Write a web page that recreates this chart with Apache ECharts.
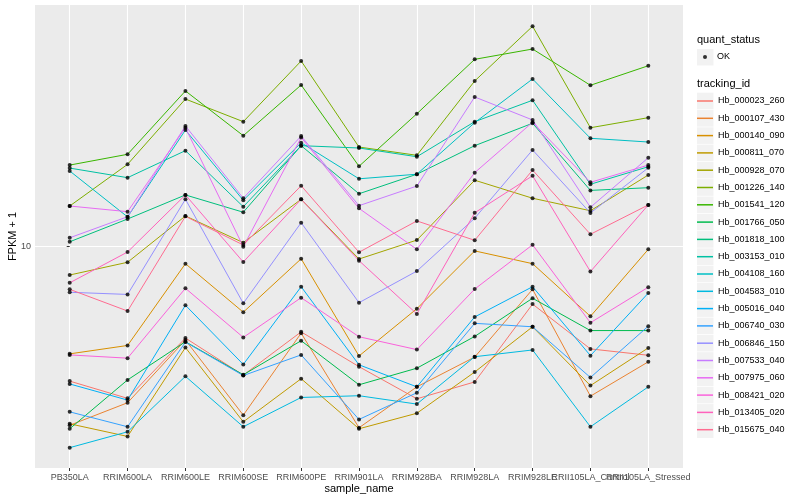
<!DOCTYPE html>
<html>
<head>
<meta charset="utf-8">
<script src="https://cdn.jsdelivr.net/npm/echarts@6/dist/echarts.min.js"></script>
<style>html,body{margin:0;padding:0;background:#fff}#c{width:800px;height:500px}</style>
</head>
<body>
<div id="c"></div>
<script>
const categories = ['PB350LA','RRIM600LA','RRIM600LE','RRIM600SE','RRIM600PE','RRIM901LA','RRIM928BA','RRIM928LA','RRIM928LE','RRII105LA_Control','RRII105LA_Stressed'];
const yTickValues = [10];

const Hb_000023_260 = [5.38, 4.97, 6.56, 5.53, 6.75, 5.75, 4.96, 5.36, 7.67, 6.24, 6.06];
const Hb_000107_430 = [4.39, 4.87, 6.50, 4.60, 6.71, 4.34, 5.24, 6.01, 8.21, 5.02, 5.88];
const Hb_000140_090 = [6.10, 6.34, 9.24, 7.39, 9.45, 6.04, 7.51, 9.80, 9.24, 7.25, 9.87];
const Hb_000811_070 = [4.42, 4.17, 6.28, 4.46, 5.44, 4.32, 4.64, 5.61, 6.91, 5.27, 6.27];
const Hb_000928_070 = [8.77, 9.30, 11.51, 10.18, 12.43, 9.44, 10.30, 13.57, 12.49, 11.79, 13.90];
const Hb_001226_140 = [12.05, 14.60, 19.72, 17.77, 23.50, 15.81, 15.22, 21.43, 27.57, 17.28, 18.10];
const Hb_001541_120 = [14.55, 15.29, 20.47, 16.66, 21.04, 14.47, 18.43, 23.68, 24.83, 21.01, 22.99];
const Hb_001766_050 = [4.32, 5.41, 6.45, 5.54, 6.48, 5.29, 5.71, 6.61, 7.88, 6.79, 6.79];
const Hb_001818_100 = [10.22, 11.35, 12.68, 11.71, 15.91, 12.75, 13.95, 15.91, 17.64, 12.95, 13.11];
const Hb_003153_010 = [14.35, 13.73, 15.55, 12.01, 15.91, 15.74, 15.12, 17.77, 19.61, 13.32, 14.44];
const Hb_004108_160 = [14.16, 11.46, 17.10, 12.37, 16.13, 13.66, 13.95, 17.69, 21.63, 16.46, 16.18];
const Hb_004583_010 = [3.96, 4.26, 5.50, 4.36, 4.99, 5.03, 4.84, 6.02, 6.21, 4.36, 5.24];
const Hb_005016_040 = [5.31, 4.93, 7.63, 5.81, 8.31, 5.80, 5.24, 7.23, 8.31, 6.05, 8.07];
const Hb_006740_030 = [4.67, 4.36, 6.44, 5.52, 6.07, 4.51, 5.10, 7.02, 6.91, 5.47, 6.93];
const Hb_006846_150 = [8.10, 8.02, 12.43, 7.70, 11.16, 7.72, 8.93, 11.39, 15.60, 11.67, 14.37];
const Hb_007533_040 = [10.41, 11.47, 17.42, 12.49, 16.63, 12.07, 13.21, 19.91, 17.91, 11.98, 15.05];
const Hb_007975_060 = [12.05, 11.74, 17.28, 9.99, 16.52, 11.92, 9.87, 14.05, 17.72, 13.44, 14.55];
const Hb_008421_020 = [6.07, 5.98, 8.25, 6.58, 7.90, 6.60, 6.22, 8.22, 10.08, 7.04, 8.29];
const Hb_013405_020 = [8.46, 9.75, 12.68, 9.31, 12.43, 9.37, 7.33, 11.68, 13.85, 8.91, 12.11];
const Hb_015675_040 = [8.21, 7.43, 11.49, 10.07, 13.23, 9.74, 11.25, 10.29, 14.22, 10.58, 12.11];

const trackingIds = ['Hb_000023_260','Hb_000107_430','Hb_000140_090','Hb_000811_070','Hb_000928_070','Hb_001226_140','Hb_001541_120','Hb_001766_050','Hb_001818_100','Hb_003153_010','Hb_004108_160','Hb_004583_010','Hb_005016_040','Hb_006740_030','Hb_006846_150','Hb_007533_040','Hb_007975_060','Hb_008421_020','Hb_013405_020','Hb_015675_040'];
const seriesValues = [Hb_000023_260,Hb_000107_430,Hb_000140_090,Hb_000811_070,Hb_000928_070,Hb_001226_140,Hb_001541_120,Hb_001766_050,Hb_001818_100,Hb_003153_010,Hb_004108_160,Hb_004583_010,Hb_005016_040,Hb_006740_030,Hb_006846_150,Hb_007533_040,Hb_007975_060,Hb_008421_020,Hb_013405_020,Hb_015675_040];
const palette = ['#F8766D','#EA8331','#D89000','#C09B00','#A3A500','#7CAE00','#39B600','#00BB4E','#00BF7D','#00C1A3','#00BFC4','#00BAE0','#00B0F6','#35A2FF','#9590FF','#C77CFF','#E76BF3','#FA62DB','#FF62BC','#FF6C91'];

const FONT = 'Liberation Sans, Arial, Helvetica, sans-serif';
const catIdx = categories.map((c, i) => i);
// ECharts drops the next-to-last label when it overlaps the last one; the reference
// keeps both, so that one label is drawn by a second, label-only x axis.
const mainLabelIdx = catIdx.filter(i => i !== 9);
const extraLabelIdx = [9];

const lineSeries = trackingIds.map((name, k) => ({
  name: name,
  type: 'line',
  data: seriesValues[k].map((v, i) => [i, v]),
  showSymbol: false,
  symbol: 'none',
  lineStyle: { width: 1, color: palette[k] },
  itemStyle: { color: palette[k] },
  color: palette[k],
  z: 2,
  animation: false
}));

const allPoints = [];
seriesValues.forEach(arr => arr.forEach((v, i) => allPoints.push([i, v])));

const pointSeries = {
  name: 'OK',
  type: 'scatter',
  data: allPoints,
  symbol: 'circle',
  symbolSize: 4,
  itemStyle: { color: '#000' },
  z: 3,
  animation: false
};

// legend key backgrounds (grey squares, as in ggplot legends)
const keyRects = [{ type: 'rect', left: 697, top: 49, shape: { width: 16.5, height: 16.5 }, style: { fill: '#F2F2F2' }, z: 0 }];
trackingIds.forEach((n, i) => {
  keyRects.push({ type: 'rect', left: 697, top: 101 + i * 17.3 - 8.3, shape: { width: 16.5, height: 16.6 }, style: { fill: '#F2F2F2' }, z: 0 });
});

const labelStyle = { fontSize: 9, color: '#4D4D4D', margin: 5, fontFamily: FONT, hideOverlap: false };

const chart = echarts.init(document.getElementById('c'), null, { renderer: 'canvas' });
chart.setOption({
  backgroundColor: '#ffffff',
  animation: false,
  textStyle: { fontFamily: FONT },
  title: [
    { text: 'quant_status', left: 697, top: 34, padding: 0, textStyle: { fontSize: 11, fontWeight: 'normal', color: '#000', fontFamily: FONT } },
    { text: 'tracking_id', left: 697, top: 78, padding: 0, textStyle: { fontSize: 11, fontWeight: 'normal', color: '#000', fontFamily: FONT } }
  ],
  graphic: keyRects,
  legend: [
    {
      data: ['OK'], left: 703, top: 51, orient: 'vertical', padding: 0,
      icon: 'circle', itemWidth: 4, itemHeight: 4, selectedMode: false,
      textStyle: { fontSize: 9, color: '#000', lineHeight: 12, padding: [0, 0, 0, 5], fontFamily: FONT }
    },
    {
      data: trackingIds, left: 697, top: 95, orient: 'vertical', padding: 0,
      icon: 'rect', itemWidth: 16, itemHeight: 1.5, itemGap: 5.3, selectedMode: false,
      textStyle: { fontSize: 9, color: '#000', lineHeight: 12, fontFamily: FONT }
    }
  ],
  grid: { left: 35, right: 117, top: 5, bottom: 32, show: true, backgroundColor: '#EBEBEB', borderWidth: 0, containLabel: false, outerBoundsMode: 'none' },
  xAxis: [
    {
      type: 'value', min: -0.6, max: 10.6, position: 'bottom',
      axisLine: { show: false },
      axisTick: { show: true, customValues: catIdx, length: 3, lineStyle: { color: '#333', width: 1 } },
      axisLabel: Object.assign({ customValues: mainLabelIdx, formatter: v => categories[Math.round(v)] || '', showMinLabel: true, showMaxLabel: true }, labelStyle),
      splitLine: { show: true, lineStyle: { color: '#FFFFFF', width: 1.1 } },
      name: 'sample_name', nameLocation: 'middle', nameGap: 15, nameMoveOverlap: false,
      nameTextStyle: { fontSize: 11, color: '#000', fontFamily: FONT }
    },
    {
      type: 'value', min: -0.6, max: 10.6, position: 'bottom', offset: 0,
      axisLine: { show: false },
      axisTick: { show: false },
      splitLine: { show: false },
      axisLabel: Object.assign({ customValues: extraLabelIdx, formatter: v => categories[Math.round(v)] || '', showMinLabel: true, showMaxLabel: true }, labelStyle)
    }
  ],
  yAxis: {
    type: 'log', logBase: 10, min: 3.606, max: 30.41,
    axisLine: { show: false },
    axisTick: { show: true, customValues: yTickValues, length: 3, lineStyle: { color: '#333', width: 1 } },
    axisLabel: { customValues: yTickValues, fontSize: 9, color: '#4D4D4D', margin: 4, fontFamily: FONT },
    splitLine: { show: true, lineStyle: { color: '#FFFFFF', width: 1.1 } },
    minorSplitLine: { show: false },
    name: 'FPKM + 1', nameLocation: 'middle', nameGap: 17, nameMoveOverlap: false,
    nameTextStyle: { fontSize: 11, color: '#000', fontFamily: FONT }
  },
  series: lineSeries.concat([pointSeries])
});
</script>
</body>
</html>
